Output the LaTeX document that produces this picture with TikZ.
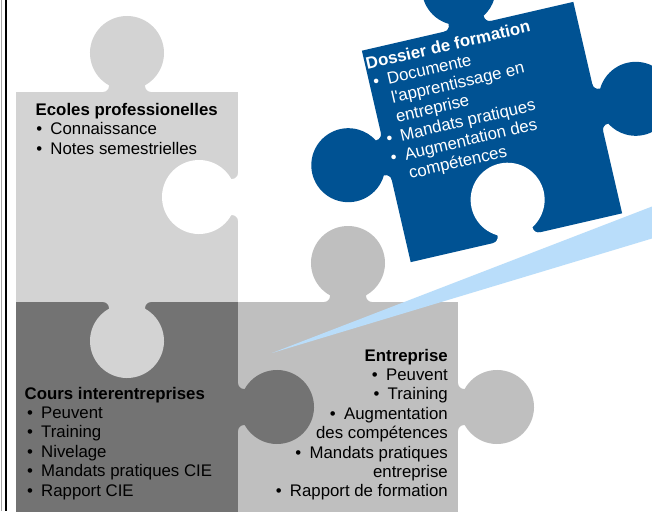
\documentclass[tikz,border=0pt]{standalone}
\usepackage{fontspec}
\setmainfont{Liberation Sans}
\definecolor{pieceA}{RGB}{211,211,211}
\definecolor{pieceB}{RGB}{115,115,115}
\definecolor{pieceC}{RGB}{191,191,191}
\definecolor{pieceBlue}{RGB}{0,82,147}
\definecolor{wedgeBlue}{RGB}{185,221,250}
\newcommand\knob[4]{\fill[#4,shift={(#1,#2)},rotate=#3] (-24,-2) -- (-24,0) arc[start angle=-90,end angle=0,radius=6] -- (-18,6.67) arc[start angle=240.9,end angle=-60.9,radius=37] -- (18,6) arc[start angle=180,end angle=270,radius=6] -- (24,-2) -- cycle;}
\newcommand\itm[2]{\hspace*{#1}\makebox[14.2pt][l]{\textbullet}#2}
\tikzset{
  txt/.style={inner sep=0pt, font=\fontsize{16.8}{19.4}\selectfont},
}
\begin{document}
\begin{tikzpicture}[x=1pt,y=1pt]
\useasboundingbox (0,0) rectangle (652,-511);
\clip (0,0) rectangle (652,-511);
\fill[white] (0,0) rectangle (652,-511);
% piece 3 (dark)
\fill[pieceB] (16,-302) rectangle (238,-513);
% piece 4
\fill[pieceC] (238,-302) rectangle (458,-513);
\knob{348}{-302}{0}{pieceC}
\knob{458}{-407}{-90}{pieceC}
% piece 1
\fill[pieceA] (16,-92) rectangle (238,-302);
\knob{127}{-92}{0}{pieceA}
\knob{127}{-302}{180}{pieceA}
\knob{238}{-197}{90}{white}
% piece 3 knob into piece 4
\knob{238}{-407}{-90}{pieceB}
% blue piece
\begin{scope}[shift={(492,-132)},rotate=13]
  \fill[pieceBlue] (-108.5,-108.5) rectangle (108.5,108.5);
  \knob{0}{108.5}{0}{pieceBlue}
  \knob{-108.5}{0}{90}{pieceBlue}
  \knob{108.5}{0}{-90}{pieceBlue}
  \knob{0}{-108.5}{0}{white}
  \node[txt, text=white, anchor=base west, transform shape] (dossier) at (-107.5,89)
    {\begin{tabular}[t]{@{}l@{}}\textbf{Dossier de formation}\\
      \itm{3pt}{Documente}\\
      \hspace*{17.2pt}l\textquotesingle apprentissage en\\
      \hspace*{17.2pt}entreprise\\
      \itm{3pt}{Mandats pratiques}\\
      \itm{3pt}{Augmentation des}\\
      \hspace*{17.2pt}compétences\end{tabular}};
\end{scope}
% wedge
\fill[wedgeBlue] (272,-353) -- (652,-206.5) -- (652,-238.5) -- cycle;
% border
\draw[black, line width=2pt] (6,0) -- (6,-511);
\draw[black!35, line width=0.8pt] (1,0) -- (1,-511);
% texts
\node[txt, anchor=base west] (ecoles) at (35.5,-115.3)
  {\begin{tabular}[t]{@{}l@{}}\textbf{Ecoles professionelles}\\
    \itm{0.6pt}{Connaissance}\\
    \itm{0.6pt}{Notes semestrielles}\end{tabular}};
\node[txt, anchor=base west] (cours) at (24.5,-399)
  {\begin{tabular}[t]{@{}l@{}}\textbf{Cours interentreprises}\\
    \itm{2.3pt}{Peuvent}\\
    \itm{2.3pt}{Training}\\
    \itm{2.3pt}{Nivelage}\\
    \itm{2.3pt}{Mandats pratiques CIE}\\
    \itm{2.3pt}{Rapport CIE}\end{tabular}};
\node[txt, anchor=base east] (entreprise) at (448,-361)
  {\begin{tabular}[t]{@{}r@{}}\textbf{Entreprise}\\
    \itm{0pt}{Peuvent}\\
    \itm{0pt}{Training}\\
    \itm{0pt}{Augmentation}\\
    des compétences\\
    \itm{0pt}{Mandats pratiques}\\
    entreprise\\
    \itm{0pt}{Rapport de formation}\end{tabular}};
\end{tikzpicture}
\end{document}
